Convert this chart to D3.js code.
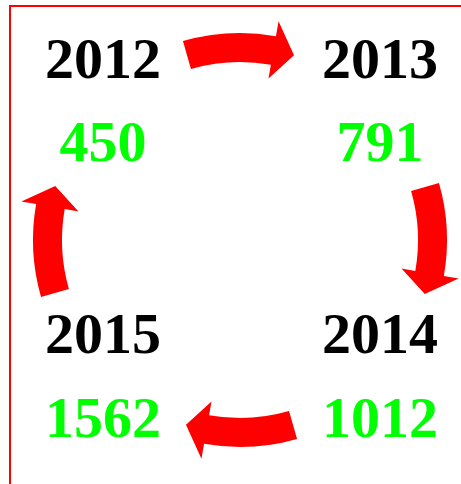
<!DOCTYPE html>
<html>
<head>
<meta charset="utf-8">
<script src="https://cdn.jsdelivr.net/npm/d3@7"></script>
<style>
  body { margin: 0; background: #fff; }
  text { font-family: "Liberation Serif", "Times New Roman", serif; font-weight: bold; }
</style>
</head>
<body>
<div id="chart"></div>
<script>
// years go round the loop clockwise, starting top-left
var years = ["2012", "2013", "2014", "2015"];
var values = [450, 791, 1012, 1562];
var cols = [0, 1, 1, 0];
var rows = [0, 0, 1, 1];

var width = 461, height = 484;
var cx = 240, cy = 240;

var svg = d3.select("#chart").append("svg")
  .attr("width", width).attr("height", height);

// frame, only left and top show in the window
svg.append("rect")
  .attr("x", 10).attr("y", 6)
  .attr("width", 600).attr("height", 600)
  .attr("fill", "none").attr("stroke", "#ff0000").attr("stroke-width", 2);

var x = d3.scalePoint().domain([0, 1]).range([103, 380]);
var yYear = d3.scalePoint().domain([0, 1]).range([78, 353]);
var yValue = d3.scalePoint().domain([0, 1]).range([161, 437]);

// curved arrow around the center, angles in degrees clockwise from up
function arrowPath(offset) {
  var rad = Math.PI / 180;
  var a0 = -16 + offset, a1 = 10 + offset, aTip = 16.3 + offset;
  var r0 = 178, r1 = 207, h0 = 164, h1 = 222, rm = (r0 + r1) / 2;
  function pt(a, r) {
    return [cx + r * Math.sin(a * rad), cy - r * Math.cos(a * rad)];
  }
  var p = d3.path();
  var s = pt(a0, r1);
  p.moveTo(s[0], s[1]);
  p.arc(cx, cy, r1, (a0 - 90) * rad, (a1 - 90) * rad, false);
  var q = pt(a1, h1); p.lineTo(q[0], q[1]);
  q = pt(aTip, rm); p.lineTo(q[0], q[1]);
  q = pt(a1, h0); p.lineTo(q[0], q[1]);
  q = pt(a1, r0); p.lineTo(q[0], q[1]);
  p.arc(cx, cy, r0, (a1 - 90) * rad, (a0 - 90) * rad, true);
  p.closePath();
  return p.toString();
}

svg.selectAll("path.arrow").data(years).enter().append("path")
  .attr("class", "arrow")
  .attr("d", function(d, i) { return arrowPath(i * 90); })
  .attr("fill", "#ff0000");

svg.selectAll("text.year").data(years).enter().append("text")
  .attr("class", "year")
  .attr("x", function(d, i) { return x(cols[i]); })
  .attr("y", function(d, i) { return yYear(rows[i]); })
  .attr("text-anchor", "middle")
  .attr("font-size", 58)
  .attr("fill", "#000")
  .text(function(d) { return d; });

svg.selectAll("text.value").data(values).enter().append("text")
  .attr("class", "value")
  .attr("x", function(d, i) { return x(cols[i]); })
  .attr("y", function(d, i) { return yValue(rows[i]); })
  .attr("text-anchor", "middle")
  .attr("font-size", 58)
  .attr("fill", "#00ff00")
  .text(function(d) { return d; });
</script>
</body>
</html>
